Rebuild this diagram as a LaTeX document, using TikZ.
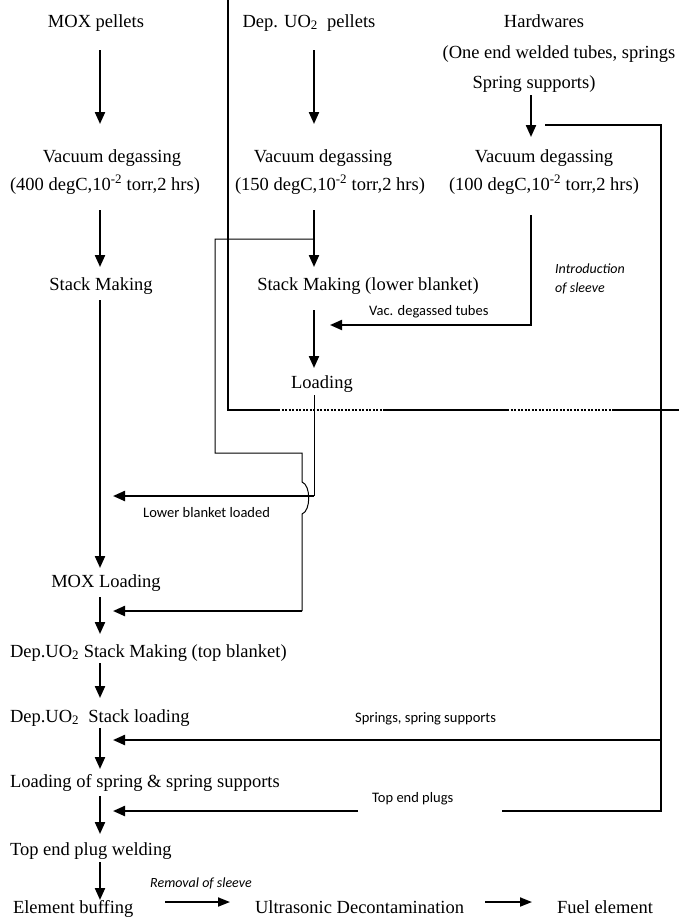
\documentclass[tikz,border=0pt]{standalone}
\usepackage{fontspec}
\setmainfont{Liberation Serif}
\newfontfamily\lblfont{Carlito}
\usetikzlibrary{arrows.meta,calc}

\begin{document}
\begin{tikzpicture}[x=1pt,y=-1pt,
  txt/.style={font=\fontsize{18.5}{22}\selectfont, inner sep=0pt, outer sep=0pt,
              text height=13pt, text depth=4.5pt, anchor=base},
  txtl/.style={txt, anchor=base west},
  lbl/.style={font=\lblfont\fontsize{14.5}{17}\selectfont, inner sep=0pt, anchor=base west},
  ilbl/.style={lbl, font=\lblfont\itshape\fontsize{14}{17}\selectfont},
  arr/.style={line width=2.2pt, -{Triangle[length=12pt,width=10pt]}},
  arrb/.style={line width=1.8pt, -{Triangle[length=12pt,width=9pt]}},
  feed/.style={line width=1.8pt},
  thinln/.style={line width=1pt},
  wall/.style={line width=1.3pt},
  walldot/.style={line width=1.4pt, dash pattern=on 2.2pt off 1.3pt},
]
\useasboundingbox (0,0) rectangle (679,922);

% column axes
\coordinate (c1) at (100,0);
\coordinate (c2) at (314,0);
\coordinate (c3) at (531,0);

% ---- process steps ----
\node[txt] (mox) at (96,27) {MOX pellets};
\node[txt] (dep) at (309,27) {Dep. UO\textsubscript{2}\ \ pellets};
\node[txt] (hw)  at (544,27) {Hardwares};
\node[txt] (hw2) at (559,58) {(One end welded tubes, springs};
\node[txt] (hw3) at (534,88) {Spring supports)};

\node[txt] (vd1) at (112,162) {Vacuum degassing};
\node[txt] (vc1) at (105,190) {(400 degC,10\textsuperscript{-2} torr,2 hrs)};
\node[txt] (vd2) at (323,162) {Vacuum degassing};
\node[txt] (vc2) at (330,190) {(150 degC,10\textsuperscript{-2} torr,2 hrs)};
\node[txt] (vd3) at (544,162) {Vacuum degassing};
\node[txt] (vc3) at (544,190) {(100 degC,10\textsuperscript{-2} torr,2 hrs)};

\node[txt] (sm1) at (101,290) {Stack Making};
\node[txt] (sm2) at (368,290) {Stack Making (lower blanket)};
\node[txt] (ld)  at (322,388) {Loading};

\node[txt]  (moxld) at (106,587) {MOX Loading};
\node[txtl] (topbl) at (10,657) {Dep.UO\textsubscript{2} Stack Making (top blanket)};
\node[txtl] (stld)  at (10,722) {Dep.UO\textsubscript{2}\ \ Stack loading};
\node[txtl] (spld)  at (10,787) {Loading of spring \& spring supports};
\node[txtl] (tew)   at (10,855) {Top end plug welding};
\node[txtl] (buff)  at (13,913) {Element buffing};
\node[txtl] (ultra) at (255,913) {Ultrasonic Decontamination};
\node[txtl] (fuel)  at (557,913) {Fuel element};

% ---- small labels ----
\node[lbl]  (vdt) at (369,315) {Vac. degassed tubes};
\node[lbl]  (lbl) at (143,517) {Lower blanket loaded};
\node[lbl]  (ssp) at (355,722) {Springs, spring supports};
\node[lbl]  (tep) at (372,802) {Top end plugs};
\node[ilbl] (int1) at (555,273) {Introduction};
\node[ilbl] (int2) at (555,292) {of sleeve};
\node[ilbl] (rem) at (150,887) {Removal of sleeve};

% ---- MOX column ----
\draw[arr, shorten <=18.5pt, shorten >=25pt] (mox.south -| c1) -- (vd1.north -| c1);
\draw[arr, shorten <=15.5pt, shorten >=10pt] (vc1.south -| c1) -- (sm1.north -| c1);
\draw[arr, shorten <=5.5pt,  shorten >=6pt]  (sm1.south -| c1) -- (moxld.north -| c1);
\draw[arr, shorten <=5.5pt,  shorten >=10pt] (moxld.south -| c1) -- (topbl.north -| c1);
\draw[arr, shorten <=1.5pt,  shorten >=11pt] (topbl.south -| c1) -- (stld.north -| c1);
\draw[arr, shorten <=1.5pt,  shorten >=5pt]  (stld.south -| c1) -- (spld.north -| c1);
\draw[arr, shorten <=4.5pt,  shorten >=8pt]  (spld.south -| c1) -- (tew.north -| c1);
\draw[arr, shorten <=2.5pt,  shorten >=0pt]  (tew.south -| c1) -- (buff.north -| c1);

% ---- depleted UO2 column ----
\draw[arr, shorten <=18.5pt, shorten >=25pt] (dep.south -| c2) -- (vd2.north -| c2);
\draw[arr, shorten <=15.5pt, shorten >=10pt] (vc2.south -| c2) -- (sm2.north -| c2);
\draw[arr, shorten <=15.5pt, shorten >=7pt]  (sm2.south -| c2) -- (ld.north -| c2);

% ---- hardware column ----
\draw[arr, shorten <=2.5pt, shorten >=12pt] (hw3.south -| c3) -- (vd3.north -| c3);
\coordinate (jt) at (314,325);
\draw[arr, line width=2pt, shorten <=20.5pt, shorten >=16pt] (vc3.south -| c3) |- (jt);

% ---- lower blanket to MOX loading ----
\coordinate (lbj) at (314,496);
\draw[thinln, shorten <=2.5pt] (ld.south -| c2) -- (lbj);
\draw[arr, shorten >=13pt] (lbj) -- (lbj -| c1);

% ---- branch round to the top-blanket stage ----
\coordinate (br) at (314,239);
\coordinate (b1) at (215,239);
\coordinate (b2) at (215,453);
\coordinate (b3) at (302,453);
\coordinate (hopA) at (302,482);
\coordinate (hopB) at (302,514);
\coordinate (b4) at (302,611);
\draw[thinln] (br) -- (b1) -- (b2) -- (b3) -- (hopA)
  .. controls (311,485) and (311,511) .. (hopB) -- (b4);
\draw[arr, shorten >=13pt] (b4) -- (b4 -| c1);

% ---- sleeve / hardware feed loop ----
\coordinate (s0) at (545,125);
\coordinate (s1) at (661,125);
\coordinate (s2) at (661,811);
\coordinate (tpR) at (502,811);
\coordinate (tpL) at (358,811);
\coordinate (spj) at (661,740);
\draw[feed] (s0) -- (s1) -- (s2) -- (tpR);
\draw[arr, shorten >=13pt] (spj) -- (spj -| c1);
\draw[arr, shorten >=13pt] (tpL) -- (tpL -| c1);

% ---- enclosure wall ----
\coordinate (w0) at (228,0);
\coordinate (w1) at (228,410);
\coordinate (wa) at (278,410);
\coordinate (wb) at (385,410);
\coordinate (wc) at (507,410);
\coordinate (wd) at (613,410);
\coordinate (w2) at (679,410);
\draw[line width=2.5pt] (w0) -- ([yshift=-0.6pt]w1);
\draw[wall] (w1) -- (wa);
\draw[walldot] (wa) -- (wb);
\draw[wall] (wb) -- (wc);
\draw[walldot] (wc) -- (wd);
\draw[wall] (wd) -- (w2);

% ---- final steps ----
\draw[arrb] ([shift={(152pt,11pt)}]buff.base west) -- ([shift={(-25pt,11pt)}]ultra.base west);
\draw[arrb] ([shift={(230pt,11pt)}]ultra.base west) -- ([shift={(-25pt,11pt)}]fuel.base west);
\end{tikzpicture}
\end{document}
